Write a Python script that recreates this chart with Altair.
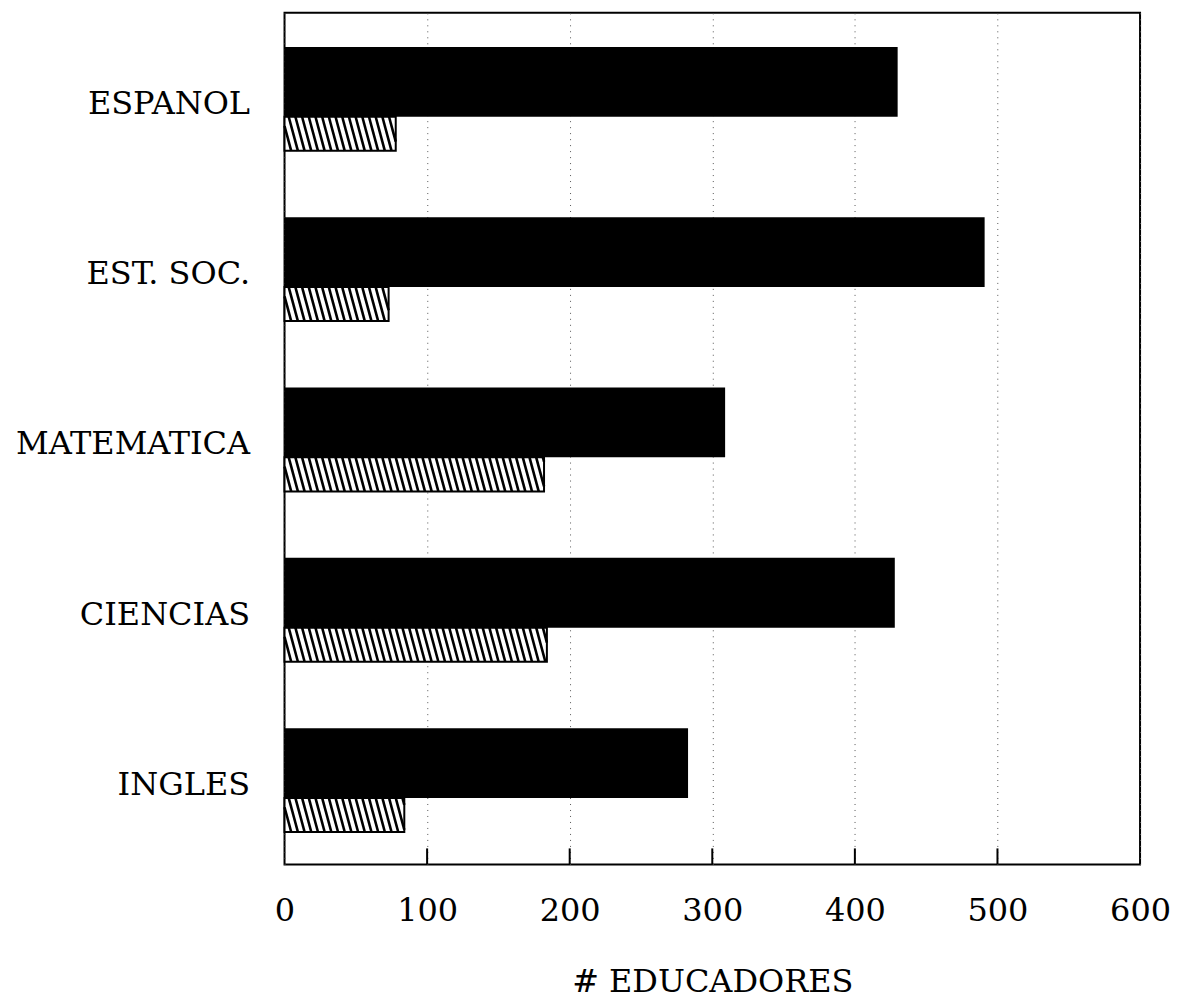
import altair as alt
import pandas as pd

# ---- data ----
categories = ["ESPANOL", "EST. SOC.", "MATEMATICA", "CIENCIAS", "INGLES"]
solid_values = [430, 491, 309, 428, 283]     # black bars
hatched_values = [78, 73, 182, 184, 84]      # hatched bars
x_ticks = [0, 100, 200, 300, 400, 500, 600]
x_title = "# EDUCADORES"

# ---- layout / style constants ----
W, H = 857, 853
X_MAX = 600
BLACK_TOP, BLACK_BOT, HATCH_BOT = 0.20, 0.61, 0.81
FONT = "DejaVu Serif"

n = len(categories)
bars = pd.DataFrame({
    "cat": categories,
    "idx": list(range(n)),
    "solid": solid_values,
    "hatched": hatched_values,
})
bars["start"] = 0
bars["yb0"] = bars["idx"] + BLACK_TOP
bars["yb1"] = bars["idx"] + BLACK_BOT
bars["yh1"] = bars["idx"] + HATCH_BOT

# hatch stripes derived from the hatched values
px_per_unit = W / X_MAX
band_px = H / n
hatch_h_px = (HATCH_BOT - BLACK_BOT) * band_px
shift = 0.27 * hatch_h_px / px_per_unit
step = 6.7 / px_per_unit
rows = []
for i, v in enumerate(hatched_values):
    ytop, ybot = i + BLACK_BOT, i + HATCH_BOT
    x0 = -shift
    while x0 < v:
        xa, xb = x0, x0 + shift
        ya, yb = ytop, ybot
        if xa < 0:
            t = (0 - x0) / shift
            xa, ya = 0, ytop + t * (ybot - ytop)
        if xb > v:
            t = (v - x0) / shift
            xb, yb = v, ytop + t * (ybot - ytop)
        rows.append({"xa": xa, "xb": xb, "ya": ya, "yb": yb})
        x0 += step
hatch = pd.DataFrame(rows)

label_arr = "[" + ",".join("'" + c + "'" for c in categories) + "]"

xscale = alt.Scale(domain=[0, X_MAX], nice=False, zero=False)
yscale = alt.Scale(domain=[0, n], reverse=True, nice=False, zero=False)

x_axis = alt.Axis(
    values=x_ticks, title=x_title, grid=True, gridColor="#555555",
    gridDash=[1, 5], gridWidth=1, domain=False, ticks=False, tickSize=0,
    labelFont=FONT, labelFontSize=32, labelColor="black", labelPadding=31,
    labelFlush=False, titleFont=FONT, titleFontSize=32, titleFontWeight="normal",
    titleColor="black", titlePadding=40,
)
y_axis = alt.Axis(
    values=[i + 0.53 for i in range(n)], labelExpr=label_arr + "[floor(datum.value)]",
    title=None, grid=False, domain=False, ticks=False, tickSize=0,
    labelFont=FONT, labelFontSize=32, labelColor="black", labelPadding=35,
    labelLimit=0,
)

solid = alt.Chart(bars).mark_rect(color="black").encode(
    x=alt.X("start:Q", scale=xscale, axis=x_axis),
    x2="solid:Q",
    y=alt.Y("yb0:Q", scale=yscale, axis=y_axis),
    y2="yb1:Q",
)

hatch_bg = alt.Chart(bars).mark_rect(fill="white").encode(
    x=alt.X("start:Q", scale=xscale, axis=x_axis), x2="hatched:Q",
    y=alt.Y("yb1:Q", scale=yscale, axis=y_axis), y2="yh1:Q",
)

stripes = alt.Chart(hatch).mark_rule(color="black", strokeWidth=2.6).encode(
    x=alt.X("xa:Q", scale=xscale, axis=x_axis), x2="xb:Q",
    y=alt.Y("ya:Q", scale=yscale, axis=y_axis), y2="yb:Q",
)

hatch_outline = alt.Chart(bars).mark_rect(
    fill="white", fillOpacity=0, stroke="black", strokeWidth=2
).encode(
    x=alt.X("start:Q", scale=xscale, axis=x_axis), x2="hatched:Q",
    y=alt.Y("yb1:Q", scale=yscale, axis=y_axis), y2="yh1:Q",
)

ticks_df = pd.DataFrame({"t": x_ticks[1:-1]})
inner_ticks = alt.Chart(ticks_df).mark_rule(color="black", strokeWidth=2).encode(
    x=alt.X("t:Q", scale=xscale, axis=x_axis),
    y=alt.value(H),
    y2=alt.value(H - 16),
)

chart = alt.layer(solid, hatch_bg, stripes, hatch_outline, inner_ticks).properties(
    width=W, height=H,
    autosize=alt.AutoSizeParams(type="none"),
    padding={"left": 277, "top": 4, "right": 30, "bottom": 138},
    background="white",
).configure_view(stroke="black", strokeWidth=2)

chart.save("out.html", embed_options={"renderer": "svg", "actions": False})
